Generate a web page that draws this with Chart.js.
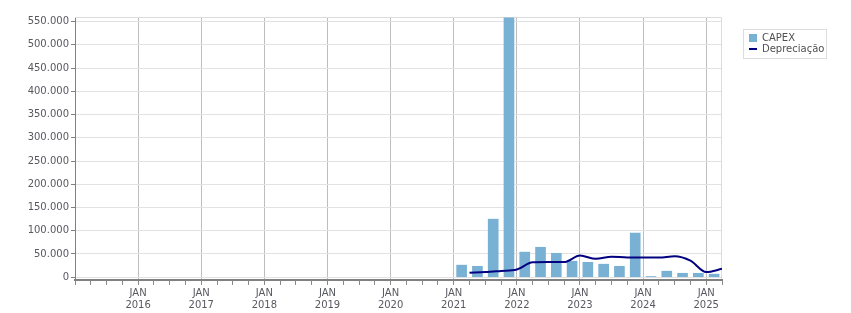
<!DOCTYPE html>
<html><head><meta charset="utf-8">
<script src="https://cdn.jsdelivr.net/npm/chart.js@4.4.0/dist/chart.umd.min.js"></script>
<style>html,body{margin:0;padding:0;background:#fff;overflow:hidden}#wrap{width:851px;height:313px;position:relative}</style>
</head><body><div id="wrap"><canvas id="c" width="851" height="313"></canvas></div>
<script>
// ---- data ----
const quarters = ['2021-Q1','2021-Q2','2021-Q3','2021-Q4','2022-Q1','2022-Q2','2022-Q3','2022-Q4','2023-Q1','2023-Q2','2023-Q3','2023-Q4','2024-Q1','2024-Q2','2024-Q3','2024-Q4','2025-Q1'];
const capex = [26000, 23500, 125000, 558000, 54000, 64500, 51500, 34500, 32000, 28000, 23500, 95000, 1500, 13000, 8500, 8500, 6500];
const depreciacao = [9500, 11000, 13500, 16500, 32000, 32500, 32500, 46500, 39500, 44000, 42500, 42500, 42500, 45000, 35500, 11000, 18000];
const yTicks = [0, 50000, 100000, 150000, 200000, 250000, 300000, 350000, 400000, 450000, 500000, 550000];
const yearTicks = [2016, 2017, 2018, 2019, 2020, 2021, 2022, 2023, 2024, 2025];
const seriesNames = ['CAPEX', 'Depreciação'];
const monthLabel = 'JAN';

// ---- helpers ----
function qStart(q){ const p = q.split('-Q'); return Number(p[0]) + (Number(p[1]) - 1) * 0.25; }
function fmt(v){ return String(Math.round(v)).replace(/\B(?=(\d{3})+(?!\d))/g, '.'); }
const FONT = {family: 'DejaVu Sans', size: 10, lineHeight: 1.2};
const TXT = '#585860';
const BAR = '#79b1d4';
const LINE = '#000080';

const frame = {
  id: 'frame',
  beforeDraw(chart){
    const lg = chart.legend;
    if (lg){
      lg.left = 748; lg.top = 32; lg.right = 748 + lg.width; lg.bottom = 32 + lg.height;
    }
  },
  beforeDatasetsDraw(chart){
    const a = chart.chartArea, ctx = chart.ctx;
    ctx.save();
    ctx.strokeStyle = '#dcdcdc'; ctx.lineWidth = 1;
    ctx.beginPath();
    ctx.moveTo(a.left, a.top + 0.5); ctx.lineTo(a.right - 0.5, a.top + 0.5); ctx.lineTo(a.right - 0.5, a.bottom - 1);
    ctx.stroke();
    ctx.restore();
  },
  afterDraw(chart){
    const ctx = chart.ctx;
    ctx.save();
    ctx.strokeStyle = '#dddddd'; ctx.lineWidth = 1;
    ctx.strokeRect(743.5, 29.5, 83, 29);
    ctx.restore();
  }
};

new Chart(document.getElementById('c'), {
  data: {
    datasets: [
      { type: 'bar', label: seriesNames[0], order: 1,
        data: quarters.map((q, i) => ({x: qStart(q) + 0.125, y: capex[i]})),
        backgroundColor: BAR, borderWidth: 0, barThickness: 10 },
      { type: 'line', label: seriesNames[1], order: 0,
        data: quarters.map((q, i) => ({x: qStart(q) + 0.25, y: depreciacao[i]})),
        borderColor: LINE, backgroundColor: LINE, borderWidth: 2, pointRadius: 0,
        cubicInterpolationMode: 'monotone', fill: false }
    ]
  },
  options: {
    responsive: false, animation: false, devicePixelRatio: 1,
    layout: {padding: {top: 17, right: 129, bottom: 0, left: 0}},
    plugins: {
      tooltip: {enabled: false},
      legend: {
        display: true, position: 'chartArea', align: 'start',
        labels: {
          usePointStyle: true, pointStyleWidth: 8, boxHeight: 8, padding: 1,
          color: '#505050', font: FONT,
          sort: (a, b) => a.datasetIndex - b.datasetIndex,
          generateLabels: chart => chart.data.datasets.map((ds, i) => ({
            text: ds.label, datasetIndex: i, hidden: false,
            fillStyle: ds.type === 'line' ? 'rgba(0,0,0,0)' : ds.backgroundColor,
            strokeStyle: ds.type === 'line' ? ds.borderColor : ds.backgroundColor,
            lineWidth: ds.type === 'line' ? 2 : 0,
            pointStyle: ds.type === 'line' ? 'line' : 'rect',
            fontColor: '#505050'
          }))
        }
      }
    },
    scales: {
      x: {
        type: 'linear', min: 2015, max: 2025.25, offset: false,
        afterBuildTicks: s => { const t = []; for (let v = 2015; v <= 2025.25 + 1e-9; v += 0.25) t.push({value: v}); s.ticks = t; },
        afterFit: s => { s.height = 33; },
        ticks: { autoSkip: false, maxRotation: 0, minRotation: 0, padding: 2, color: TXT, font: FONT,
          callback: v => yearTicks.includes(v) ? [monthLabel, String(v)] : '' },
        grid: { offset: false, color: c => (c.tick && yearTicks.includes(c.tick.value)) ? '#bdbdbd' : 'rgba(0,0,0,0)',
          tickColor: '#8a8a8a', tickLength: 5, lineWidth: 1 },
        border: { color: '#808080', width: 2 }
      },
      y: {
        type: 'linear', min: -6000, max: 560000,
        afterBuildTicks: s => { s.ticks = yTicks.map(v => ({value: v})); },
        afterFit: s => { s.width = 75; },
        ticks: { padding: 2, color: TXT, font: FONT, callback: v => fmt(v) },
        grid: { color: '#e2e2e2', tickColor: '#808080', tickLength: 4, lineWidth: 1 },
        border: { color: '#808080', width: 1 }
      }
    }
  },
  plugins: [frame]
});
</script>
</body></html>
